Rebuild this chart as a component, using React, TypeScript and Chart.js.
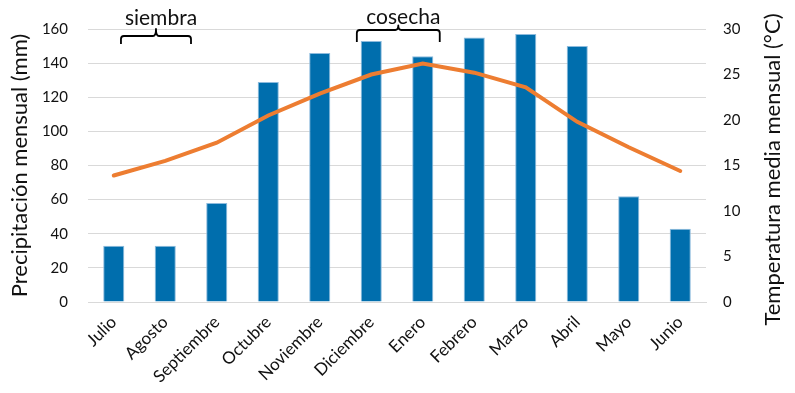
import React, { useEffect, useRef } from "react";
import { Chart, registerables } from "chart.js";

Chart.register(...registerables);

// Monthly climate series, July through June
const months = [
  "Julio", "Agosto", "Septiembre", "Octubre", "Noviembre", "Diciembre",
  "Enero", "Febrero", "Marzo", "Abril", "Mayo", "Junio",
];
const precipitationMm = [33, 33, 58, 129, 146, 153, 144, 155, 157, 150, 62, 43];
const temperatureC = [13.9, 15.5, 17.5, 20.5, 22.9, 25.0, 26.2, 25.2, 23.6, 19.8, 17.0, 14.4];

const precipTicks = [0, 20, 40, 60, 80, 100, 120, 140, 160];
const tempTicks = [0, 5, 10, 15, 20, 25, 30];

// Crop phases: label and span in category units
const phaseLabels = ["siembra", "cosecha"];
const phaseFrom = [0.14, 4.72];
const phaseTo = [1.5, 6.33];

const tempTitle = "Temperatura media mensual (°C)";

const FONT = "Lato, 'Open Sans', sans-serif";
const TEXT = "#111111";

const phaseBraces = {
  id: "phaseBraces",
  afterDraw(chart: any) {
    const { ctx, chartArea } = chart;
    const x = chart.scales.x;
    const top = chartArea.top;
    const cfg = [
      { line: top + 7, end: top + 15, peak: top, text: top - 4 },
      { line: top + 1, end: top + 13, peak: top - 3.5, text: top - 5 },
    ];
    ctx.save();
    phaseLabels.forEach((label, i) => {
      const x1 = x.getPixelForValue(phaseFrom[i]);
      const x2 = x.getPixelForValue(phaseTo[i]);
      const xm = (x1 + x2) / 2;
      const { line, end, peak, text } = cfg[i];
      const r = 3;
      ctx.beginPath();
      ctx.moveTo(x1, end);
      ctx.lineTo(x1, line + r);
      ctx.quadraticCurveTo(x1, line, x1 + r, line);
      ctx.lineTo(xm - r, line);
      ctx.quadraticCurveTo(xm, line, xm, peak);
      ctx.quadraticCurveTo(xm, line, xm + r, line);
      ctx.lineTo(x2 - r, line);
      ctx.quadraticCurveTo(x2, line, x2, line + r);
      ctx.lineTo(x2, end);
      ctx.strokeStyle = "#000";
      ctx.lineWidth = 1.8;
      ctx.lineJoin = "round";
      ctx.stroke();

      ctx.fillStyle = TEXT;
      ctx.font = `21px ${FONT}`;
      ctx.textAlign = "center";
      ctx.textBaseline = "alphabetic";
      ctx.fillText(label, xm + 5, text);
    });

    // Right axis title, reading bottom-to-top
    const y1 = chart.scales.y1;
    ctx.translate(y1.right - 22, (chartArea.top + chartArea.bottom) / 2 + 4);
    ctx.rotate(-Math.PI / 2);
    ctx.font = `22px ${FONT}`;
    ctx.textAlign = "center";
    ctx.textBaseline = "middle";
    ctx.fillText(tempTitle, 0, 0);
    ctx.restore();
  },
};

export default function App() {
  const canvasRef = useRef<HTMLCanvasElement | null>(null);

  useEffect(() => {
    if (!canvasRef.current) return;
    const chart = new Chart(canvasRef.current, {
      type: "bar",
      data: {
        labels: months,
        datasets: [
          {
            type: "line",
            label: "Temperatura",
            data: temperatureC,
            yAxisID: "y1",
            borderColor: "#ED7D31",
            backgroundColor: "#ED7D31",
            borderWidth: 4,
            pointRadius: 0,
            tension: 0,
            borderCapStyle: "round",
            order: 0,
          } as any,
          {
            type: "bar",
            label: "Precipitación",
            data: precipitationMm,
            yAxisID: "y",
            backgroundColor: "#006EAD",
            borderColor: "#8DBBDD",
            borderWidth: 1,
            categoryPercentage: 1,
            barPercentage: 0.41,
            order: 1,
          },
        ],
      },
      options: {
        animation: false,
        responsive: false,
        layout: { padding: { top: 26, left: 0, right: 0, bottom: 0 } },
        plugins: {
          legend: { display: false },
          tooltip: { enabled: false },
        },
        scales: {
          x: {
            grid: { display: false, drawTicks: false },
            border: { display: true, color: "#D9D9D9", width: 1 },
            ticks: {
              autoSkip: false,
              minRotation: 45,
              maxRotation: 45,
              padding: 10,
              color: TEXT,
              font: { family: FONT, size: 17 },
            },
            afterFit(scale: any) {
              scale.height = 91;
            },
          },
          y: {
            position: "left",
            min: 0,
            max: 160,
            afterBuildTicks(scale: any) {
              scale.ticks = precipTicks.map((v) => ({ value: v }));
            },
            grid: { color: "#D9D9D9", lineWidth: 1, drawTicks: false },
            border: { display: false },
            ticks: {
              padding: 20,
              color: TEXT,
              font: { family: FONT, size: 15 },
            },
            title: {
              display: true,
              text: "Precipitación mensual (mm)",
              color: TEXT,
              font: { family: FONT, size: 22 },
              padding: { top: 7, bottom: 0 },
            },
            afterFit(scale: any) {
              scale.width = 88;
            },
          },
          y1: {
            position: "right",
            min: 0,
            max: 30,
            afterBuildTicks(scale: any) {
              scale.ticks = tempTicks.map((v) => ({ value: v }));
            },
            grid: { drawOnChartArea: false, drawTicks: false },
            border: { display: false },
            ticks: {
              padding: 17,
              color: TEXT,
              font: { family: FONT, size: 15 },
            },
            afterFit(scale: any) {
              scale.width = 89;
            },
          },
        },
      },
      plugins: [phaseBraces],
    });
    return () => chart.destroy();
  }, []);

  return (
    <div style={{ position: "fixed", left: 0, top: 0, width: 795, height: 393, background: "#fff" }}>
      <canvas ref={canvasRef} width={795} height={393} style={{ display: "block" }} />
    </div>
  );
}
